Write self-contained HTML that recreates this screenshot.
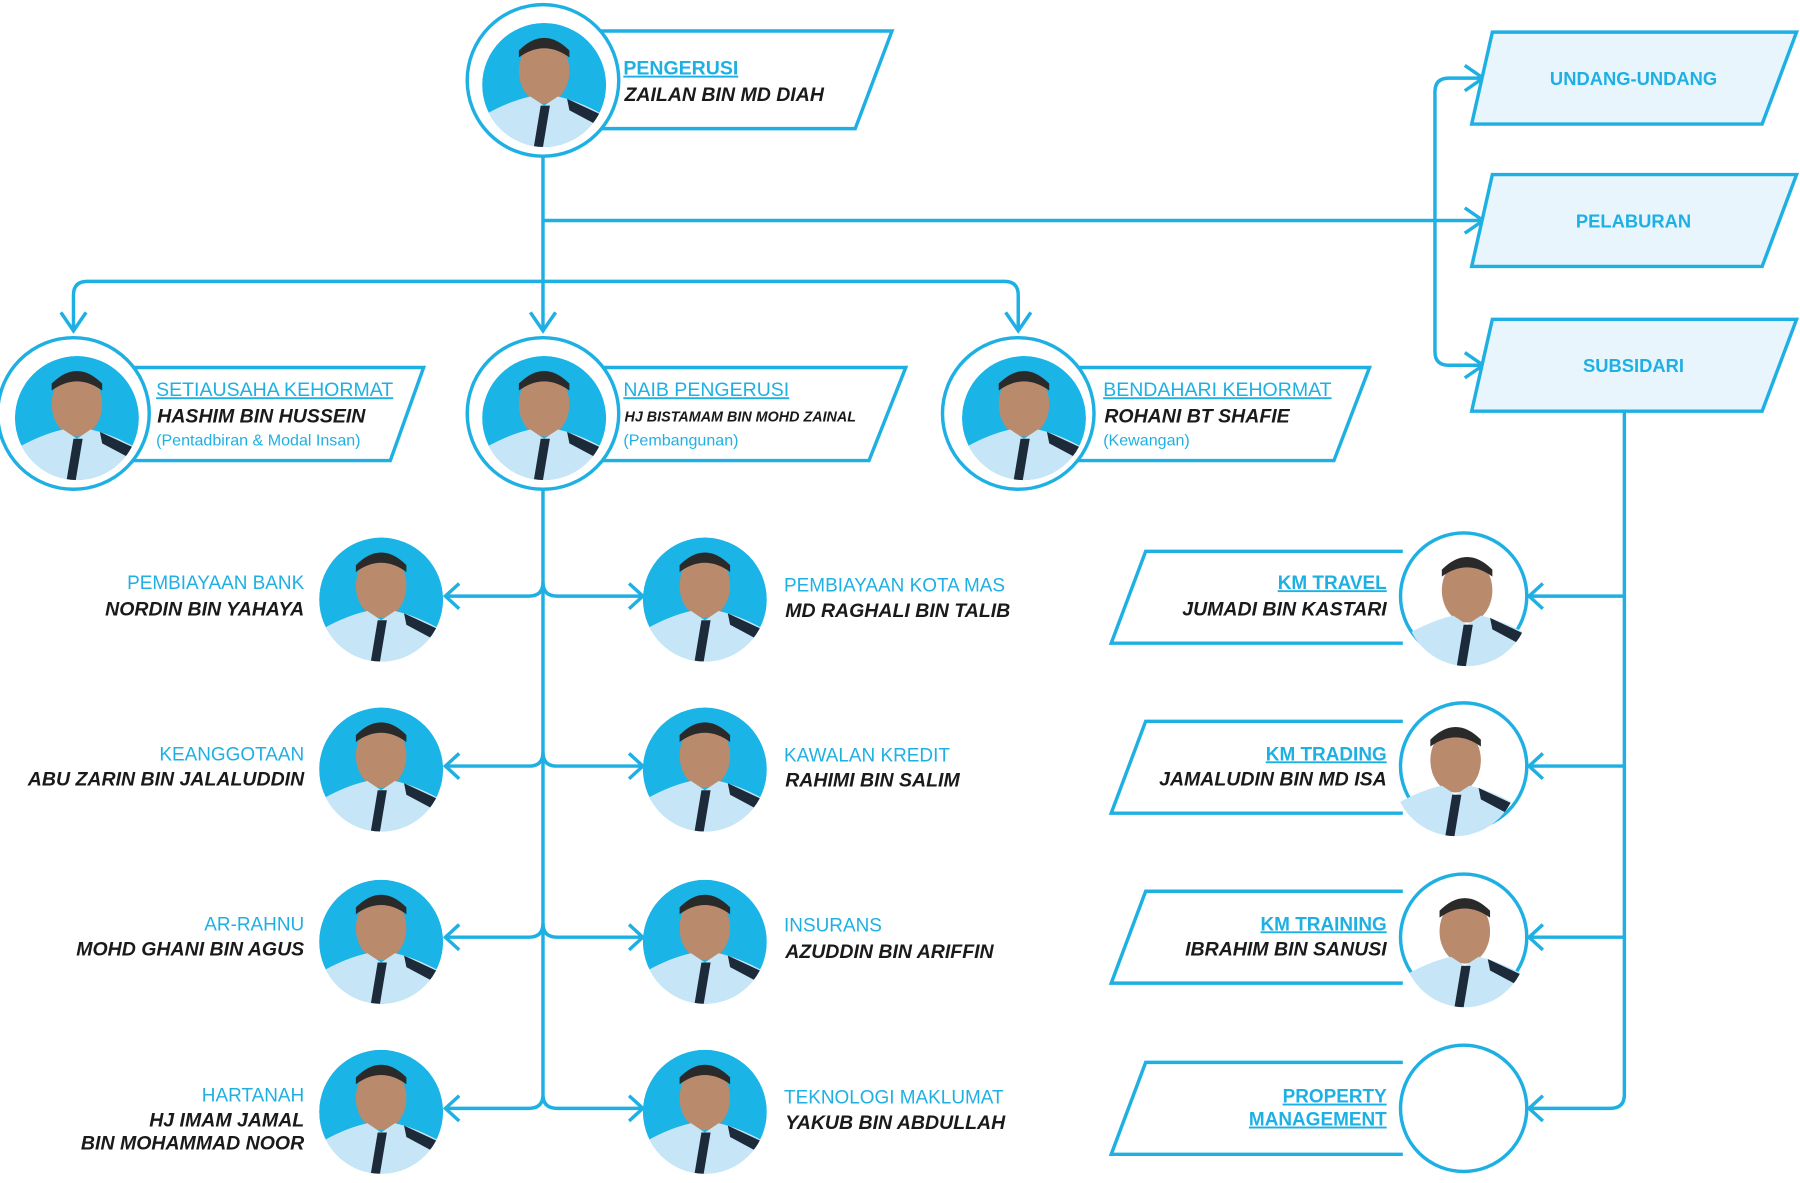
<!DOCTYPE html>
<html><head><meta charset="utf-8"><style>
html,body{margin:0;padding:0;background:#fff}
svg{display:block}
text{font-family:"Liberation Sans",sans-serif}
.t{fill:#1fb0e3;font-size:17px;text-decoration:underline}
.tb{fill:#1fb0e3;font-size:16.5px;font-weight:bold;text-decoration:underline}
.n{fill:#1a1a1a;font-size:17px;font-weight:bold;font-style:italic}
.d{fill:#1fb0e3;font-size:14px}
.dep{fill:#1fb0e3;font-size:16.5px}
.bx{fill:#fff;stroke:#1fb0e3;stroke-width:3}
.ln{fill:none;stroke:#1fb0e3;stroke-width:3}
.rb{fill:#e9f5fc;stroke:#1fb0e3;stroke-width:3}
.rt{fill:#1fb0e3;font-size:16px;font-weight:bold}
</style></head><body>
<svg width="1800" height="1183" viewBox="0 0 1568 1030" preserveAspectRatio="none" xmlns="http://www.w3.org/2000/svg">
<defs>
<clipPath id="c"><circle cx="0" cy="0" r="54"/></clipPath>
<g id="p">
<ellipse cx="0" cy="-12" rx="22" ry="28" fill="#b98a6c"/>
<path d="M-22,-30 Q0,-52 22,-30 L22,-24 Q0,-40 -22,-24Z" fill="#2a2a2a"/>
<path d="M-55,60 L-50,25 Q-30,14 -12,10 L0,18 L12,10 Q30,14 50,25 L55,60Z" fill="#c6e6f7"/>
<path d="M-3,18 L5,18 L-2,60 L-10,60Z" fill="#1c2a3a"/>
<path d="M20,12 L50,26 L52,38 L22,22Z" fill="#1c2a3a"/>
</g>
<g id="a"><circle r="54" fill="#1ab4e6"/><use href="#p"/></g>
</defs>

<path class="ln" d="M473,137 V288"/>
<polyline class="ln" points="462,272 473,288 484,272"/>
<path class="ln" d="M473,192 H1292"/>
<polyline class="ln" points="1276,181 1292,192 1276,203"/>
<path class="ln" d="M76,245 H875 Q887,245 887,257 V288 M76,245 Q64,245 64,257 V288"/>
<polyline class="ln" points="53,272 64,288 75,272"/>
<polyline class="ln" points="876,272 887,288 898,272"/>
<path class="ln" d="M1292,68 H1262 Q1250,68 1250,80 V306 Q1250,318 1262,318 H1292"/>
<polyline class="ln" points="1276,57 1292,68 1276,79"/>
<polyline class="ln" points="1276,307 1292,318 1276,329"/>

<path class="ln" d="M473,427 V953"/>
<g class="ln">
<path d="M473,507 Q473,519 461,519 H388 M473,507 Q473,519 485,519 H560"/>
<path d="M473,655 Q473,667 461,667 H388 M473,655 Q473,667 485,667 H560"/>
<path d="M473,804 Q473,816 461,816 H388 M473,804 Q473,816 485,816 H560"/>
<path d="M473,953 Q473,965 461,965 H388 M473,953 Q473,965 485,965 H560"/>
</g>
<g class="ln">
<polyline points="400,508 388,519 400,530"/><polyline points="548,508 560,519 548,530"/>
<polyline points="400,656 388,667 400,678"/><polyline points="548,656 560,667 548,678"/>
<polyline points="400,805 388,816 400,827"/><polyline points="548,805 560,816 548,827"/>
<polyline points="400,954 388,965 400,976"/><polyline points="548,954 560,965 548,976"/>
</g>

<path class="ln" d="M1415,358 V953 Q1415,965 1403,965 H1332 M1415,519 H1332 M1415,667 H1332 M1415,816 H1332"/>
<g class="ln">
<polyline points="1344,508 1332,519 1344,530"/>
<polyline points="1344,656 1332,667 1344,678"/>
<polyline points="1344,805 1332,816 1344,827"/>
<polyline points="1344,954 1332,965 1344,976"/>
</g>

<polygon class="rb" points="1300,28 1565,28 1535,108 1282,108"/>
<text class="rt" x="1423" y="74" text-anchor="middle">UNDANG-UNDANG</text>
<polygon class="rb" points="1300,152 1565,152 1535,232 1282,232"/>
<text class="rt" x="1423" y="198" text-anchor="middle">PELABURAN</text>
<polygon class="rb" points="1300,278 1565,278 1535,358 1282,358"/>
<text class="rt" x="1423" y="324" text-anchor="middle">SUBSIDARI</text>

<polygon class="bx" points="500,27 777,27 745,112 500,112"/>
<circle class="bx" cx="473" cy="70" r="66"/>
<g transform="translate(474,74)" clip-path="url(#c)"><use href="#a"/></g>
<text class="t" style="font-weight:600" x="543" y="65">PENGERUSI</text>
<text class="n" x="544" y="88">ZAILAN BIN MD DIAH</text>

<polygon class="bx" points="100,320 369,320 340,401 100,401"/>
<circle class="bx" cx="64" cy="360" r="66"/>
<g transform="translate(67,364)" clip-path="url(#c)"><use href="#a"/></g>
<text class="t" x="136" y="345">SETIAUSAHA KEHORMAT</text>
<text class="n" x="137" y="368">HASHIM BIN HUSSEIN</text>
<text class="d" x="136" y="388">(Pentadbiran &amp; Modal Insan)</text>

<polygon class="bx" points="505,320 789,320 757,401 505,401"/>
<circle class="bx" cx="473" cy="360" r="66"/>
<g transform="translate(474,364)" clip-path="url(#c)"><use href="#a"/></g>
<text class="t" x="543" y="345">NAIB PENGERUSI</text>
<text class="n" style="font-size:12.5px" x="544" y="367">HJ BISTAMAM BIN MOHD ZAINAL</text>
<text class="d" x="543" y="388">(Pembangunan)</text>

<polygon class="bx" points="920,320 1193,320 1162,401 920,401"/>
<circle class="bx" cx="887" cy="360" r="66"/>
<g transform="translate(892,364)" clip-path="url(#c)"><use href="#a"/></g>
<text class="t" x="961" y="345">BENDAHARI KEHORMAT</text>
<text class="n" x="962" y="368">ROHANI BT SHAFIE</text>
<text class="d" x="961" y="388">(Kewangan)</text>

<g transform="translate(332,522)" clip-path="url(#c)"><use href="#a"/></g>
<g transform="translate(332,670)" clip-path="url(#c)"><use href="#a"/></g>
<g transform="translate(332,820)" clip-path="url(#c)"><use href="#a"/></g>
<g transform="translate(332,968)" clip-path="url(#c)"><use href="#a"/></g>
<g text-anchor="end">
<text class="dep" x="265" y="513">PEMBIAYAAN BANK</text>
<text class="n" x="265" y="536">NORDIN BIN YAHAYA</text>
<text class="dep" x="265" y="662">KEANGGOTAAN</text>
<text class="n" x="265" y="684">ABU ZARIN BIN JALALUDDIN</text>
<text class="dep" x="265" y="810">AR-RAHNU</text>
<text class="n" x="265" y="832">MOHD GHANI BIN AGUS</text>
<text class="dep" x="265" y="959">HARTANAH</text>
<text class="n" x="265" y="981">HJ IMAM JAMAL</text>
<text class="n" x="265" y="1001">BIN MOHAMMAD NOOR</text>
</g>

<g transform="translate(614,522)" clip-path="url(#c)"><use href="#a"/></g>
<g transform="translate(614,670)" clip-path="url(#c)"><use href="#a"/></g>
<g transform="translate(614,820)" clip-path="url(#c)"><use href="#a"/></g>
<g transform="translate(614,968)" clip-path="url(#c)"><use href="#a"/></g>
<text class="dep" x="683" y="515">PEMBIAYAAN KOTA MAS</text>
<text class="n" x="684" y="537">MD RAGHALI BIN TALIB</text>
<text class="dep" x="683" y="663">KAWALAN KREDIT</text>
<text class="n" x="684" y="685">RAHIMI BIN SALIM</text>
<text class="dep" x="683" y="811">INSURANS</text>
<text class="n" x="684" y="834">AZUDDIN BIN ARIFFIN</text>
<text class="dep" x="683" y="961">TEKNOLOGI MAKLUMAT</text>
<text class="n" x="684" y="983">YAKUB BIN ABDULLAH</text>

<g>
<polyline class="ln" points="1222,480 998,480 968,560 1222,560"/>
<circle class="ln" cx="1275" cy="519" r="55"/>
<g transform="translate(1278,526)" clip-path="url(#c)"><use href="#p"/></g>
<polyline class="ln" points="1222,628 998,628 968,708 1222,708"/>
<circle class="ln" cx="1275" cy="667" r="55"/>
<g transform="translate(1268,674)" clip-path="url(#c)"><use href="#p"/></g>
<polyline class="ln" points="1222,776 998,776 968,856 1222,856"/>
<circle class="ln" cx="1275" cy="816" r="55"/>
<g transform="translate(1276,823)" clip-path="url(#c)"><use href="#p"/></g>
<polyline class="ln" points="1222,925 998,925 968,1005 1222,1005"/>
<circle class="ln" cx="1275" cy="965" r="55"/>
</g>
<g text-anchor="end">
<text class="tb" x="1208" y="513">KM TRAVEL</text>
<text class="n" x="1208" y="536">JUMADI BIN KASTARI</text>
<text class="tb" x="1208" y="662">KM TRADING</text>
<text class="n" x="1208" y="684">JAMALUDIN BIN MD ISA</text>
<text class="tb" x="1208" y="810">KM TRAINING</text>
<text class="n" x="1208" y="832">IBRAHIM BIN SANUSI</text>
<text class="tb" x="1208" y="960">PROPERTY</text>
<text class="tb" x="1208" y="980">MANAGEMENT</text>
</g>
</svg>
</body></html>
